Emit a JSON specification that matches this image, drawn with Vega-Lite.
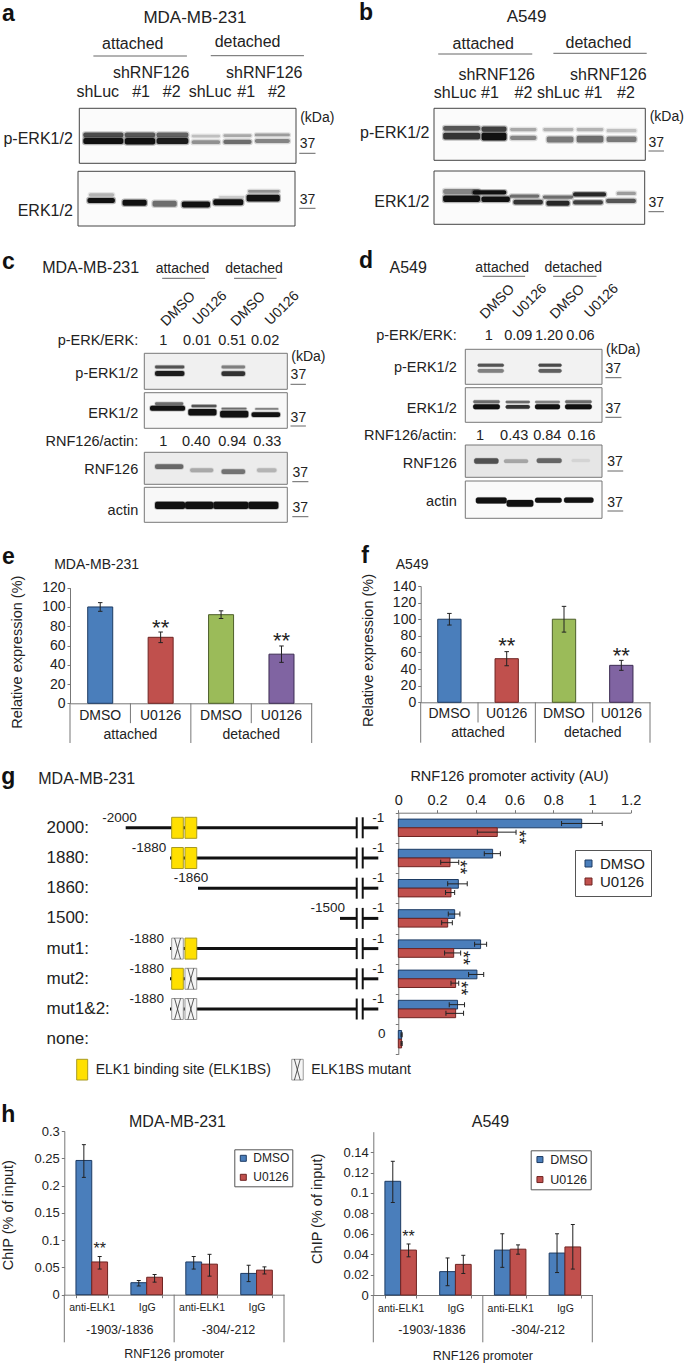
{"$schema":"https://vega.github.io/schema/vega-lite/v6.json","width":685,"height":1365,"autosize":"none","padding":0,"background":"white",
"config":{"view":{"stroke":null},"axis":{"labelFont":"Liberation Sans","titleFont":"Liberation Sans","labelColor":"#222","titleColor":"#222","titleFontWeight":"normal","domainColor":"#777","tickColor":"#777","grid":false,"labelOverlap":false,"labelFlush":false,"labelBound":false},"text":{"font":"Liberation Sans","fill":"#222"},"legend":{"labelFont":"Liberation Sans","labelColor":"#222"},"tick":{"opacity":1}},
"resolve":{"scale":{"x":"independent","y":"independent","xOffset":"independent","yOffset":"independent","fill":"independent","stroke":"independent"},"axis":{"x":"independent","y":"independent"},"legend":{"fill":"independent"}},
"datasets":{
"bands":[
{"strip":"a1","from":0.11,"to":1.22,"top":44,"bottom":53,"density":0.75},{"strip":"a1","from":1.26,"to":2.1,"top":44,"bottom":53,"density":0.7},{"strip":"a1","from":2.14,"to":3.02,"top":44,"bottom":53,"density":0.65},{"strip":"a1","from":3.11,"to":3.9,"top":48,"bottom":53,"density":0.25},{"strip":"a1","from":3.99,"to":4.77,"top":47,"bottom":52,"density":0.35},{"strip":"a1","from":4.86,"to":5.83,"top":46,"bottom":51,"density":0.4},
{"strip":"a1","from":0.11,"to":1.22,"top":54,"bottom":65,"density":1},{"strip":"a1","from":1.26,"to":2.1,"top":54,"bottom":66,"density":1},{"strip":"a1","from":2.14,"to":3.02,"top":54,"bottom":65,"density":0.95},{"strip":"a1","from":3.11,"to":3.9,"top":58,"bottom":65,"density":0.45},{"strip":"a1","from":3.99,"to":4.77,"top":57,"bottom":65,"density":0.6},{"strip":"a1","from":4.86,"to":5.83,"top":56,"bottom":63,"density":0.5},
{"strip":"a2","from":0.26,"to":1.02,"top":49,"bottom":58,"density":1},{"strip":"a2","from":1.23,"to":1.9,"top":52,"bottom":63,"density":1},{"strip":"a2","from":2.06,"to":2.73,"top":54,"bottom":65,"density":0.6},{"strip":"a2","from":2.87,"to":3.65,"top":55,"bottom":66,"density":1},{"strip":"a2","from":3.74,"to":4.57,"top":51,"bottom":62,"density":1},{"strip":"a2","from":4.66,"to":5.58,"top":43,"bottom":55,"density":1},{"strip":"a2","from":0.3,"to":1,"top":40,"bottom":46,"density":0.3},{"strip":"a2","from":4.7,"to":5.58,"top":34,"bottom":39,"density":0.45},{"strip":"a2","from":3.9,"to":4.6,"top":45,"bottom":49,"density":0.2},
{"strip":"b1","from":0.26,"to":1.31,"top":34,"bottom":43,"density":0.7},{"strip":"b1","from":1.35,"to":2.06,"top":35,"bottom":45,"density":0.8},{"strip":"b1","from":2.16,"to":2.91,"top":38,"bottom":44,"density":0.35},{"strip":"b1","from":3.1,"to":3.96,"top":38,"bottom":44,"density":0.3},{"strip":"b1","from":4.05,"to":4.81,"top":38,"bottom":44,"density":0.3},{"strip":"b1","from":4.9,"to":5.75,"top":40,"bottom":46,"density":0.25},
{"strip":"b1","from":0.26,"to":1.31,"top":47,"bottom":60,"density":0.85},{"strip":"b1","from":1.35,"to":2.06,"top":47,"bottom":62,"density":1},{"strip":"b1","from":2.16,"to":2.91,"top":53,"bottom":61,"density":0.5},{"strip":"b1","from":3.2,"to":3.96,"top":54,"bottom":66,"density":0.55},{"strip":"b1","from":4.05,"to":4.81,"top":53,"bottom":66,"density":0.6},{"strip":"b1","from":4.9,"to":5.75,"top":54,"bottom":65,"density":0.55},
{"strip":"b2","from":0.26,"to":1.31,"top":34,"bottom":43,"density":0.5},{"strip":"b2","from":1.1,"to":2.06,"top":36,"bottom":44,"density":1},{"strip":"b2","from":2.16,"to":3,"top":44,"bottom":50,"density":0.6},{"strip":"b2","from":3.1,"to":3.96,"top":46,"bottom":52,"density":0.6},{"strip":"b2","from":3.96,"to":4.9,"top":40,"bottom":48,"density":0.9},{"strip":"b2","from":5.2,"to":5.75,"top":39,"bottom":45,"density":0.4},
{"strip":"b2","from":0.26,"to":1.31,"top":46,"bottom":58,"density":1},{"strip":"b2","from":1.35,"to":2.16,"top":48,"bottom":58,"density":1},{"strip":"b2","from":2.26,"to":3.1,"top":54,"bottom":63,"density":0.85},{"strip":"b2","from":3.2,"to":3.86,"top":56,"bottom":65,"density":0.9},{"strip":"b2","from":3.96,"to":4.81,"top":55,"bottom":63,"density":0.8},{"strip":"b2","from":4.9,"to":5.75,"top":52,"bottom":60,"density":0.7},
{"strip":"c1","from":0.3,"to":1.12,"top":34,"bottom":42,"density":0.7},{"strip":"c1","from":2.16,"to":2.82,"top":34,"bottom":42,"density":0.5},{"strip":"c1","from":0.3,"to":1.12,"top":49,"bottom":63,"density":0.95},{"strip":"c1","from":2.16,"to":2.82,"top":50,"bottom":63,"density":0.85},
{"strip":"c2","from":0.3,"to":1.09,"top":27,"bottom":35,"density":0.6},{"strip":"c2","from":1.32,"to":2.02,"top":34,"bottom":41,"density":0.7},{"strip":"c2","from":2.16,"to":2.86,"top":42,"bottom":47,"density":0.6},{"strip":"c2","from":3.1,"to":3.75,"top":43,"bottom":48,"density":0.5},
{"strip":"c2","from":0.16,"to":1.14,"top":37,"bottom":51,"density":1},{"strip":"c2","from":1.23,"to":2.02,"top":46,"bottom":64,"density":1},{"strip":"c2","from":2.12,"to":2.91,"top":51,"bottom":70,"density":1},{"strip":"c2","from":3,"to":3.8,"top":55,"bottom":68,"density":1},
{"strip":"c3","from":0.3,"to":1.09,"top":37,"bottom":52,"density":0.6},{"strip":"c3","from":1.28,"to":1.93,"top":50,"bottom":62,"density":0.3},{"strip":"c3","from":2.16,"to":2.82,"top":53,"bottom":68,"density":0.55},{"strip":"c3","from":3.15,"to":3.7,"top":50,"bottom":62,"density":0.25},
{"strip":"c4","from":0.3,"to":1.14,"top":41,"bottom":62,"density":1},{"strip":"c4","from":1.14,"to":1.93,"top":41,"bottom":62,"density":1},{"strip":"c4","from":1.93,"to":2.91,"top":41,"bottom":62,"density":1},{"strip":"c4","from":2.91,"to":3.75,"top":41,"bottom":62,"density":1},
{"strip":"d1","from":0.36,"to":1.13,"top":41,"bottom":50,"density":0.7},{"strip":"d1","from":2.14,"to":2.82,"top":41,"bottom":50,"density":0.75},{"strip":"d1","from":0.36,"to":1.13,"top":56,"bottom":67,"density":0.5},{"strip":"d1","from":2.14,"to":2.82,"top":56,"bottom":67,"density":0.65},
{"strip":"d2","from":0.23,"to":1.01,"top":36,"bottom":45,"density":0.6},{"strip":"d2","from":1.18,"to":1.89,"top":38,"bottom":45,"density":0.6},{"strip":"d2","from":2.04,"to":2.77,"top":38,"bottom":45,"density":0.5},{"strip":"d2","from":2.92,"to":3.7,"top":36,"bottom":45,"density":0.6},
{"strip":"d2","from":0.23,"to":1.01,"top":48,"bottom":62,"density":1},{"strip":"d2","from":1.18,"to":1.89,"top":50,"bottom":61,"density":0.85},{"strip":"d2","from":2.04,"to":2.77,"top":48,"bottom":62,"density":1},{"strip":"d2","from":2.92,"to":3.7,"top":48,"bottom":62,"density":1},
{"strip":"d3","from":0.26,"to":0.97,"top":41,"bottom":58,"density":0.7},{"strip":"d3","from":1.13,"to":1.84,"top":44,"bottom":56,"density":0.3},{"strip":"d3","from":2.09,"to":2.82,"top":41,"bottom":56,"density":0.6},{"strip":"d3","from":3.11,"to":3.65,"top":43,"bottom":53,"density":0.08},
{"strip":"d4","from":0.31,"to":1.21,"top":44,"bottom":60,"density":1},{"strip":"d4","from":1.21,"to":1.99,"top":51,"bottom":69,"density":1},{"strip":"d4","from":2.04,"to":2.82,"top":45,"bottom":58,"density":1},{"strip":"d4","from":2.89,"to":3.75,"top":44,"bottom":58,"density":1}
],
"notes":[
{"panel":"a","role":"center","kind":"big","label":"MDA-MB-231","lane":3.2,"tier":1.83},{"panel":"a","role":"center","kind":"medium","label":"attached","lane":1.48,"tier":4.43},{"panel":"a","role":"center","kind":"medium","label":"detached","lane":4.66,"tier":4.17},{"panel":"a","role":"center","kind":"medium","label":"shRNF126","lane":1.99,"tier":7.33},{"panel":"a","role":"center","kind":"medium","label":"shRNF126","lane":5.12,"tier":7.33},{"panel":"a","role":"center","kind":"medium","label":"shLuc","lane":0.51,"tier":9.17},{"panel":"a","role":"center","kind":"medium","label":"#1","lane":1.71,"tier":9.17},{"panel":"a","role":"center","kind":"medium","label":"#2","lane":2.56,"tier":9.17},{"panel":"a","role":"center","kind":"medium","label":"shLuc","lane":3.62,"tier":9.17},{"panel":"a","role":"center","kind":"medium","label":"#1","lane":4.62,"tier":9.17},{"panel":"a","role":"center","kind":"medium","label":"#2","lane":5.47,"tier":9.17},{"panel":"a","role":"center","kind":"small","label":"(kDa)","lane":6.59,"tier":11.77},{"panel":"a","role":"center","kind":"small","label":"37","lane":6.32,"tier":14.43},{"panel":"a","role":"center","kind":"small","label":"37","lane":6.32,"tier":20},{"panel":"a","role":"right","kind":"medium","label":"p-ERK1/2","lane":-0.18,"tier":13.93},{"panel":"a","role":"right","kind":"medium","label":"ERK1/2","lane":-0.18,"tier":21.07},
{"panel":"b","role":"center","kind":"big","label":"A549","lane":2.63,"tier":1.73},{"panel":"b","role":"center","kind":"medium","label":"attached","lane":1.4,"tier":4.4},{"panel":"b","role":"center","kind":"medium","label":"detached","lane":4.67,"tier":4.33},{"panel":"b","role":"center","kind":"medium","label":"shRNF126","lane":1.78,"tier":7.5},{"panel":"b","role":"center","kind":"medium","label":"shRNF126","lane":4.95,"tier":7.5},{"panel":"b","role":"center","kind":"medium","label":"shLuc","lane":0.6,"tier":9.33},{"panel":"b","role":"center","kind":"medium","label":"#1","lane":1.59,"tier":9.33},{"panel":"b","role":"center","kind":"medium","label":"#2","lane":2.54,"tier":9.33},{"panel":"b","role":"center","kind":"medium","label":"shLuc","lane":3.53,"tier":9.33},{"panel":"b","role":"center","kind":"medium","label":"#1","lane":4.53,"tier":9.33},{"panel":"b","role":"center","kind":"medium","label":"#2","lane":5.45,"tier":9.33},{"panel":"b","role":"center","kind":"small","label":"(kDa)","lane":6.61,"tier":11.67},{"panel":"b","role":"center","kind":"small","label":"37","lane":6.31,"tier":14.33},{"panel":"b","role":"center","kind":"small","label":"37","lane":6.31,"tier":20.33},{"panel":"b","role":"right","kind":"medium","label":"p-ERK1/2","lane":-0.13,"tier":13.27},{"panel":"b","role":"right","kind":"medium","label":"ERK1/2","lane":-0.13,"tier":20.17},
{"panel":"c","role":"center","kind":"medium","label":"MDA-MB-231","lane":-1.5,"tier":2.33},{"panel":"c","role":"center","kind":"small","label":"attached","lane":1.07,"tier":2.43},{"panel":"c","role":"center","kind":"small","label":"detached","lane":3.07,"tier":2.43},{"panel":"c","role":"slant","kind":"small","label":"DMSO","lane":0.95,"tier":6.4},{"panel":"c","role":"slant","kind":"small","label":"U0126","lane":1.84,"tier":6.33},{"panel":"c","role":"slant","kind":"small","label":"DMSO","lane":2.91,"tier":6.4},{"panel":"c","role":"slant","kind":"small","label":"U0126","lane":3.86,"tier":6.33},{"panel":"c","role":"right","kind":"normal","label":"p-ERK/ERK:","lane":-0.17,"tier":9.6},{"panel":"c","role":"center","kind":"normal","label":"1","lane":0.53,"tier":9.6},{"panel":"c","role":"center","kind":"normal","label":"0.01","lane":1.48,"tier":9.6},{"panel":"c","role":"center","kind":"normal","label":"0.51","lane":2.46,"tier":9.6},{"panel":"c","role":"center","kind":"normal","label":"0.02","lane":3.38,"tier":9.6},{"panel":"c","role":"right","kind":"normal","label":"RNF126/actin:","lane":-0.17,"tier":19.67},{"panel":"c","role":"center","kind":"normal","label":"1","lane":0.53,"tier":19.67},{"panel":"c","role":"center","kind":"normal","label":"0.40","lane":1.45,"tier":19.67},{"panel":"c","role":"center","kind":"normal","label":"0.94","lane":2.46,"tier":19.67},{"panel":"c","role":"center","kind":"normal","label":"0.33","lane":3.44,"tier":19.67},{"panel":"c","role":"right","kind":"normal","label":"p-ERK1/2","lane":-0.17,"tier":12.93},{"panel":"c","role":"right","kind":"normal","label":"ERK1/2","lane":-0.17,"tier":16.93},{"panel":"c","role":"right","kind":"normal","label":"RNF126","lane":-0.17,"tier":22.5},{"panel":"c","role":"right","kind":"normal","label":"actin","lane":-0.17,"tier":26.57},{"panel":"c","role":"center","kind":"small","label":"(kDa)","lane":4.59,"tier":11.17},{"panel":"c","role":"center","kind":"small","label":"37","lane":4.31,"tier":13},{"panel":"c","role":"center","kind":"small","label":"37","lane":4.31,"tier":17.27},{"panel":"c","role":"center","kind":"small","label":"37","lane":4.36,"tier":22.77},{"panel":"c","role":"center","kind":"small","label":"37","lane":4.36,"tier":26.33},
{"panel":"d","role":"center","kind":"medium","label":"A549","lane":-1.67,"tier":2.33},{"panel":"d","role":"center","kind":"small","label":"attached","lane":1.08,"tier":2.27},{"panel":"d","role":"center","kind":"small","label":"detached","lane":3.16,"tier":2.27},{"panel":"d","role":"slant","kind":"small","label":"DMSO","lane":0.94,"tier":5.67},{"panel":"d","role":"slant","kind":"small","label":"U0126","lane":1.89,"tier":5.6},{"panel":"d","role":"slant","kind":"small","label":"DMSO","lane":2.99,"tier":5.67},{"panel":"d","role":"slant","kind":"small","label":"U0126","lane":3.99,"tier":5.6},{"panel":"d","role":"right","kind":"normal","label":"p-ERK/ERK:","lane":-0.25,"tier":9.07},{"panel":"d","role":"center","kind":"normal","label":"1","lane":0.69,"tier":9.07},{"panel":"d","role":"center","kind":"normal","label":"0.09","lane":1.55,"tier":9.07},{"panel":"d","role":"center","kind":"normal","label":"1.20","lane":2.45,"tier":9.07},{"panel":"d","role":"center","kind":"normal","label":"0.06","lane":3.37,"tier":9.07},{"panel":"d","role":"right","kind":"normal","label":"RNF126/actin:","lane":-0.25,"tier":19.07},{"panel":"d","role":"center","kind":"normal","label":"1","lane":0.43,"tier":19.07},{"panel":"d","role":"center","kind":"normal","label":"0.43","lane":1.43,"tier":19.07},{"panel":"d","role":"center","kind":"normal","label":"0.84","lane":2.4,"tier":19.07},{"panel":"d","role":"center","kind":"normal","label":"0.16","lane":3.4,"tier":19.07},{"panel":"d","role":"right","kind":"normal","label":"p-ERK1/2","lane":-0.25,"tier":12.33},{"panel":"d","role":"right","kind":"normal","label":"ERK1/2","lane":-0.25,"tier":16.4},{"panel":"d","role":"right","kind":"normal","label":"RNF126","lane":-0.25,"tier":21.93},{"panel":"d","role":"right","kind":"normal","label":"actin","lane":-0.25,"tier":25.67},{"panel":"d","role":"center","kind":"small","label":"(kDa)","lane":4.62,"tier":10.5},{"panel":"d","role":"center","kind":"small","label":"37","lane":4.33,"tier":12.43},{"panel":"d","role":"center","kind":"small","label":"37","lane":4.33,"tier":16.4},{"panel":"d","role":"center","kind":"small","label":"37","lane":4.38,"tier":21.73},{"panel":"d","role":"center","kind":"small","label":"37","lane":4.38,"tier":25.77}
],
"rules":[
{"panel":"a","lane":0.39,"end":2.98,"tier":5.6},{"panel":"a","lane":3.64,"end":6.22,"tier":5.57},{"panel":"a","lane":6.09,"end":6.54,"tier":15.33},{"panel":"a","lane":6.09,"end":6.54,"tier":20.83},
{"panel":"b","lane":0.12,"end":2.79,"tier":5.4},{"panel":"b","lane":3.39,"end":6.04,"tier":5.33},{"panel":"b","lane":6.09,"end":6.53,"tier":15.1},{"panel":"b","lane":6.09,"end":6.53,"tier":21.17},
{"panel":"c","lane":0.5,"end":1.7,"tier":3.33},{"panel":"c","lane":2.51,"end":3.7,"tier":3.33},{"panel":"c","lane":4.09,"end":4.52,"tier":13.93},{"panel":"c","lane":4.09,"end":4.52,"tier":18.1},{"panel":"c","lane":4.14,"end":4.59,"tier":23.67},{"panel":"c","lane":4.14,"end":4.59,"tier":27.17},
{"panel":"d","lane":0.51,"end":1.75,"tier":3.13},{"panel":"d","lane":2.57,"end":3.84,"tier":3.13},{"panel":"d","lane":4.1,"end":4.57,"tier":13.27},{"panel":"d","lane":4.1,"end":4.57,"tier":17.23},{"panel":"d","lane":4.16,"end":4.62,"tier":22.6},{"panel":"d","lane":4.16,"end":4.62,"tier":26.6}
],
"expression":[
{"panel":"e","arm":"attached|DMSO","value":100,"lo":95.5,"hi":104.5},{"panel":"e","arm":"attached|U0126","value":68.5,"lo":63,"hi":74},{"panel":"e","arm":"detached|DMSO","value":92,"lo":88,"hi":96},{"panel":"e","arm":"detached|U0126","value":51,"lo":42.5,"hi":59.5},
{"panel":"f","arm":"attached|DMSO","value":100,"lo":93,"hi":107},{"panel":"f","arm":"attached|U0126","value":52.5,"lo":44,"hi":61},{"panel":"f","arm":"detached|DMSO","value":100,"lo":84.5,"hi":115.5},{"panel":"f","arm":"detached|U0126","value":44.5,"lo":38.5,"hi":50.5}
],
"stars":[
{"panel":"e","arm":"attached|U0126","at":78.5},{"panel":"e","arm":"detached|U0126","at":64.7},{"panel":"f","arm":"attached|U0126","at":68},{"panel":"f","arm":"detached|U0126","at":55.8}
],
"dividers":[
{"panel":"e","at":0,"level":0,"depth":2},{"panel":"e","at":1,"level":0,"depth":1},{"panel":"e","at":2,"level":0,"depth":2},{"panel":"e","at":3,"level":0,"depth":1},{"panel":"e","at":4,"level":0,"depth":2},
{"panel":"f","at":0,"level":0,"depth":2},{"panel":"f","at":1,"level":0,"depth":1},{"panel":"f","at":2,"level":0,"depth":2},{"panel":"f","at":3,"level":0,"depth":1},{"panel":"f","at":4,"level":0,"depth":2},
{"panel":"hL","at":0,"level":0,"depth":2},{"panel":"hL","at":2,"level":0,"depth":2},{"panel":"hL","at":4,"level":0,"depth":2},
{"panel":"hR","at":0,"level":0,"depth":2},{"panel":"hR","at":2,"level":0,"depth":2},{"panel":"hR","at":4,"level":0,"depth":2}
],
"captions":[
{"panel":"e","kind":"small","label":"MDA-MB-231","at":0.44,"level":-6.97},{"panel":"e","kind":"small","label":"attached","at":1,"level":1.6},{"panel":"e","kind":"small","label":"detached","at":3,"level":1.6},
{"panel":"f","kind":"small","label":"A549","at":-0.15,"level":-6.8},{"panel":"f","kind":"small","label":"attached","at":1,"level":1.52},{"panel":"f","kind":"small","label":"detached","at":3,"level":1.52},
{"panel":"hL","kind":"medium","label":"MDA-MB-231","at":2.06,"level":-7.27},{"panel":"hL","kind":"minor","label":"-1903/-1836","at":1.01,"level":1.48},{"panel":"hL","kind":"minor","label":"-304/-212","at":2.99,"level":1.48},{"panel":"hL","kind":"minor","label":"RNF126 promoter","at":2,"level":2.49},
{"panel":"hR","kind":"medium","label":"A549","at":2.14,"level":-7.33},{"panel":"hR","kind":"minor","label":"-1903/-1836","at":1.07,"level":1.5},{"panel":"hR","kind":"minor","label":"-304/-212","at":3.01,"level":1.5},{"panel":"hR","kind":"minor","label":"RNF126 promoter","at":2,"level":2.56}
],
"promoter":[
{"row":"2000","treatment":"DMSO","value":0.947,"lo":0.843,"hi":1.053},{"row":"2000","treatment":"U0126","value":0.511,"lo":0.408,"hi":0.608},
{"row":"1880","treatment":"DMSO","value":0.487,"lo":0.444,"hi":0.527},{"row":"1880","treatment":"U0126","value":0.267,"lo":0.219,"hi":0.312},
{"row":"1860","treatment":"DMSO","value":0.31,"lo":0.255,"hi":0.356},{"row":"1860","treatment":"U0126","value":0.272,"lo":0.244,"hi":0.291},
{"row":"1500","treatment":"DMSO","value":0.291,"lo":0.258,"hi":0.318},{"row":"1500","treatment":"U0126","value":0.255,"lo":0.224,"hi":0.279},
{"row":"mut1","treatment":"DMSO","value":0.425,"lo":0.394,"hi":0.456},{"row":"mut1","treatment":"U0126","value":0.286,"lo":0.239,"hi":0.322},
{"row":"mut2","treatment":"DMSO","value":0.406,"lo":0.363,"hi":0.441},{"row":"mut2","treatment":"U0126","value":0.296,"lo":0.272,"hi":0.312},
{"row":"mut1&2","treatment":"DMSO","value":0.306,"lo":0.263,"hi":0.342},{"row":"mut1&2","treatment":"U0126","value":0.296,"lo":0.246,"hi":0.337},
{"row":"none","treatment":"DMSO","value":0.017,"lo":0.014,"hi":0.02},{"row":"none","treatment":"U0126","value":0.017,"lo":0.014,"hi":0.02}
],
"promoterStars":[{"row":"2000","treatment":"U0126","at":0.619},{"row":"1880","treatment":"U0126","at":0.315},{"row":"mut1","treatment":"U0126","at":0.327},{"row":"mut2","treatment":"U0126","at":0.318}],
"segments":[
{"row":"2000","part":"left","from":-2000,"to":-846},{"row":"2000","part":"right","from":-611,"to":-1},{"row":"1880","part":"left","from":-1880,"to":-846},{"row":"1880","part":"right","from":-611,"to":-1},{"row":"1860","part":"left","from":-1860,"to":-846},{"row":"1860","part":"right","from":-611,"to":-1},{"row":"1500","part":"left","from":-1500,"to":-846},{"row":"1500","part":"right","from":-611,"to":-1},{"row":"mut1","part":"left","from":-1880,"to":-846},{"row":"mut1","part":"right","from":-611,"to":-1},{"row":"mut2","part":"left","from":-1880,"to":-846},{"row":"mut2","part":"right","from":-611,"to":-1},{"row":"mut1&2","part":"left","from":-1880,"to":-846},{"row":"mut1&2","part":"right","from":-611,"to":-1}
],
"sites":[
{"row":"2000","state":"wild","from":-1878.8,"to":-1870.5,"mid":-1874.6},{"row":"2000","state":"wild","from":-1869.3,"to":-1860.9,"mid":-1865.1},{"row":"1880","state":"wild","from":-1878.8,"to":-1870.5,"mid":-1874.6},{"row":"1880","state":"wild","from":-1869.3,"to":-1860.9,"mid":-1865.1},{"row":"mut1","state":"mutant","from":-1878.8,"to":-1870.5,"mid":-1874.6},{"row":"mut1","state":"wild","from":-1869.3,"to":-1860.9,"mid":-1865.1},{"row":"mut2","state":"wild","from":-1878.8,"to":-1870.5,"mid":-1874.6},{"row":"mut2","state":"mutant","from":-1869.3,"to":-1860.9,"mid":-1865.1},{"row":"mut1&2","state":"mutant","from":-1878.8,"to":-1870.5,"mid":-1874.6},{"row":"mut1&2","state":"mutant","from":-1869.3,"to":-1860.9,"mid":-1865.1}
],
"endpoints":[
{"row":"2000","label":"-2000","pos":-2017},{"row":"1880","label":"-1880","pos":-1937},{"row":"1860","label":"-1860","pos":-1865},{"row":"1500","label":"-1500","pos":-1531},{"row":"mut1","label":"-1880","pos":-1943},{"row":"mut2","label":"-1880","pos":-1943},{"row":"mut1&2","label":"-1880","pos":-1943},
{"row":"2000","label":"-1","pos":-1},{"row":"1880","label":"-1","pos":-1},{"row":"1860","label":"-1","pos":-1},{"row":"1500","label":"-1","pos":-1},{"row":"mut1","label":"-1","pos":-1},{"row":"mut2","label":"-1","pos":-1},{"row":"mut1&2","label":"-1","pos":-1},{"row":"none","label":"0","pos":133}
],
"siteKey":[
{"band":"key","state":"wild","label":"ELK1 binding site (ELK1BS)","from":0,"to":0.0354,"mid":0.0177},{"band":"key","state":"mutant","label":"ELK1BS  mutant","from":0.693,"to":0.73,"mid":0.711}
],
"chip":[
{"panel":"hL","group":"-1903/-1836|anti-ELK1","treatment":"DMSO","value":0.246,"lo":0.215,"hi":0.275},{"panel":"hL","group":"-1903/-1836|anti-ELK1","treatment":"U0126","value":0.06,"lo":0.047,"hi":0.07},{"panel":"hL","group":"-1903/-1836|IgG","treatment":"DMSO","value":0.022,"lo":0.016,"hi":0.026},{"panel":"hL","group":"-1903/-1836|IgG","treatment":"U0126","value":0.032,"lo":0.023,"hi":0.037},{"panel":"hL","group":"-304/-212|anti-ELK1","treatment":"DMSO","value":0.06,"lo":0.047,"hi":0.07},{"panel":"hL","group":"-304/-212|anti-ELK1","treatment":"U0126","value":0.056,"lo":0.034,"hi":0.074},{"panel":"hL","group":"-304/-212|IgG","treatment":"DMSO","value":0.039,"lo":0.024,"hi":0.054},{"panel":"hL","group":"-304/-212|IgG","treatment":"U0126","value":0.045,"lo":0.038,"hi":0.051},
{"panel":"hR","group":"-1903/-1836|anti-ELK1","treatment":"DMSO","value":0.1114,"lo":0.0906,"hi":0.131},{"panel":"hR","group":"-1903/-1836|anti-ELK1","treatment":"U0126","value":0.044,"lo":0.0374,"hi":0.05},{"panel":"hR","group":"-1903/-1836|IgG","treatment":"DMSO","value":0.0229,"lo":0.0091,"hi":0.0363},{"panel":"hR","group":"-1903/-1836|IgG","treatment":"U0126","value":0.03,"lo":0.0211,"hi":0.0389},{"panel":"hR","group":"-304/-212|anti-ELK1","treatment":"DMSO","value":0.044,"lo":0.0271,"hi":0.06},{"panel":"hR","group":"-304/-212|anti-ELK1","treatment":"U0126","value":0.0449,"lo":0.04,"hi":0.0491},{"panel":"hR","group":"-304/-212|IgG","treatment":"DMSO","value":0.0411,"lo":0.022,"hi":0.06},{"panel":"hR","group":"-304/-212|IgG","treatment":"U0126","value":0.0471,"lo":0.0254,"hi":0.0691}
],
"chipStars":[{"panel":"hL","group":"-1903/-1836|anti-ELK1","treatment":"U0126","at":0.083},{"panel":"hR","group":"-1903/-1836|anti-ELK1","treatment":"U0126","at":0.0567}],
"letters":[{"label":"a","across":1.21,"down":1.0},{"label":"b","across":53.43,"down":0.95},{"label":"c","across":1.21,"down":19.17},{"label":"d","across":53.43,"down":19.1},{"label":"e","across":1.21,"down":40.83},{"label":"f","across":53.28,"down":40.73},{"label":"g","across":1.21,"down":56.92},{"label":"h","across":1.21,"down":81.68}]
},
"layer":[
{"data":{"name":"letters"},"mark":{"type":"text","fontSize":23,"fontWeight":"bold","fill":"#111"},"encoding":{"x":{"field":"across","type":"quantitative","scale":{"domain":[0,100],"range":[0,685]},"axis":null},"y":{"field":"down","type":"quantitative","scale":{"domain":[0,100],"range":[0,1365]},"axis":null},"text":{"field":"label"}}},
{"data":{"values":[{"label":"MDA-MB-231","across":12.66,"down":57.09}]},"mark":{"type":"text","fontSize":16},"encoding":{"x":{"field":"across","type":"quantitative","scale":{"domain":[0,100],"range":[0,685]},"axis":null},"y":{"field":"down","type":"quantitative","scale":{"domain":[0,100],"range":[0,1365]},"axis":null},"text":{"field":"label"}}},

{"data":{"values":[{"from":0,"to":6,"top":0,"bottom":100}]},"mark":{"type":"rect","fill":"#fbfbfb","stroke":"#444","strokeWidth":1},"encoding":{"x":{"field":"from","type":"quantitative","scale":{"domain":[0,6],"range":[79.3,296]},"axis":null},"x2":{"field":"to"},"y":{"field":"top","type":"quantitative","scale":{"domain":[0,100],"range":[108.3,163.3]},"axis":null},"y2":{"field":"bottom"}}},
{"data":{"name":"bands"},"transform":[{"filter":"datum.strip=='a1'"}],"mark":{"type":"rect","cornerRadius":2,"fill":"#111","stroke":"#111","strokeWidth":2.5,"strokeOpacity":0.3},"encoding":{"x":{"field":"from","type":"quantitative","scale":{"domain":[0,6],"range":[79.3,296]},"axis":null},"x2":{"field":"to"},"y":{"field":"top","type":"quantitative","scale":{"domain":[0,100],"range":[108.3,163.3]},"axis":null},"y2":{"field":"bottom"},"opacity":{"field":"density","type":"quantitative","scale":null}}},
{"data":{"values":[{"from":0,"to":6,"top":0,"bottom":100}]},"mark":{"type":"rect","fill":"#fbfbfb","stroke":"#444","strokeWidth":1},"encoding":{"x":{"field":"from","type":"quantitative","scale":{"domain":[0,6],"range":[78,295]},"axis":null},"x2":{"field":"to"},"y":{"field":"top","type":"quantitative","scale":{"domain":[0,100],"range":[171.3,226]},"axis":null},"y2":{"field":"bottom"}}},
{"data":{"name":"bands"},"transform":[{"filter":"datum.strip=='a2'"}],"mark":{"type":"rect","cornerRadius":2,"fill":"#111","stroke":"#111","strokeWidth":2.5,"strokeOpacity":0.3},"encoding":{"x":{"field":"from","type":"quantitative","scale":{"domain":[0,6],"range":[78,295]},"axis":null},"x2":{"field":"to"},"y":{"field":"top","type":"quantitative","scale":{"domain":[0,100],"range":[171.3,226]},"axis":null},"y2":{"field":"bottom"},"opacity":{"field":"density","type":"quantitative","scale":null}}},
{"data":{"values":[{"from":0,"to":6,"top":0,"bottom":100}]},"mark":{"type":"rect","fill":"#fbfbfb","stroke":"#444","strokeWidth":1},"encoding":{"x":{"field":"from","type":"quantitative","scale":{"domain":[0,6],"range":[434,645.3]},"axis":null},"x2":{"field":"to"},"y":{"field":"top","type":"quantitative","scale":{"domain":[0,100],"range":[108.3,160.3]},"axis":null},"y2":{"field":"bottom"}}},
{"data":{"name":"bands"},"transform":[{"filter":"datum.strip=='b1'"}],"mark":{"type":"rect","cornerRadius":2,"fill":"#111","stroke":"#111","strokeWidth":2.5,"strokeOpacity":0.3},"encoding":{"x":{"field":"from","type":"quantitative","scale":{"domain":[0,6],"range":[434,645.3]},"axis":null},"x2":{"field":"to"},"y":{"field":"top","type":"quantitative","scale":{"domain":[0,100],"range":[108.3,160.3]},"axis":null},"y2":{"field":"bottom"},"opacity":{"field":"density","type":"quantitative","scale":null}}},
{"data":{"values":[{"from":0,"to":6,"top":0,"bottom":100}]},"mark":{"type":"rect","fill":"#fbfbfb","stroke":"#444","strokeWidth":1},"encoding":{"x":{"field":"from","type":"quantitative","scale":{"domain":[0,6],"range":[434,644.7]},"axis":null},"x2":{"field":"to"},"y":{"field":"top","type":"quantitative","scale":{"domain":[0,100],"range":[171,224.3]},"axis":null},"y2":{"field":"bottom"}}},
{"data":{"name":"bands"},"transform":[{"filter":"datum.strip=='b2'"}],"mark":{"type":"rect","cornerRadius":2,"fill":"#111","stroke":"#111","strokeWidth":2.5,"strokeOpacity":0.3},"encoding":{"x":{"field":"from","type":"quantitative","scale":{"domain":[0,6],"range":[434,644.7]},"axis":null},"x2":{"field":"to"},"y":{"field":"top","type":"quantitative","scale":{"domain":[0,100],"range":[171,224.3]},"axis":null},"y2":{"field":"bottom"},"opacity":{"field":"density","type":"quantitative","scale":null}}},

{"data":{"values":[{"from":0,"to":4,"top":0,"bottom":100}]},"mark":{"type":"rect","fill":"#f0f0f0","stroke":"#777","strokeWidth":1},"encoding":{"x":{"field":"from","type":"quantitative","scale":{"domain":[0,4],"range":[144.3,287.3]},"axis":null},"x2":{"field":"to"},"y":{"field":"top","type":"quantitative","scale":{"domain":[0,100],"range":[353.3,389.3]},"axis":null},"y2":{"field":"bottom"}}},
{"data":{"name":"bands"},"transform":[{"filter":"datum.strip=='c1'"}],"mark":{"type":"rect","cornerRadius":2,"fill":"#111","stroke":"#111","strokeWidth":1.5,"strokeOpacity":0.3},"encoding":{"x":{"field":"from","type":"quantitative","scale":{"domain":[0,4],"range":[144.3,287.3]},"axis":null},"x2":{"field":"to"},"y":{"field":"top","type":"quantitative","scale":{"domain":[0,100],"range":[353.3,389.3]},"axis":null},"y2":{"field":"bottom"},"opacity":{"field":"density","type":"quantitative","scale":null}}},
{"data":{"values":[{"from":0,"to":4,"top":0,"bottom":100}]},"mark":{"type":"rect","fill":"#f8f8f8","stroke":"#777","strokeWidth":1},"encoding":{"x":{"field":"from","type":"quantitative","scale":{"domain":[0,4],"range":[144.3,287.3]},"axis":null},"x2":{"field":"to"},"y":{"field":"top","type":"quantitative","scale":{"domain":[0,100],"range":[392.7,428.3]},"axis":null},"y2":{"field":"bottom"}}},
{"data":{"name":"bands"},"transform":[{"filter":"datum.strip=='c2'"}],"mark":{"type":"rect","cornerRadius":2,"fill":"#111","stroke":"#111","strokeWidth":1.5,"strokeOpacity":0.3},"encoding":{"x":{"field":"from","type":"quantitative","scale":{"domain":[0,4],"range":[144.3,287.3]},"axis":null},"x2":{"field":"to"},"y":{"field":"top","type":"quantitative","scale":{"domain":[0,100],"range":[392.7,428.3]},"axis":null},"y2":{"field":"bottom"},"opacity":{"field":"density","type":"quantitative","scale":null}}},
{"data":{"values":[{"from":0,"to":4,"top":0,"bottom":100}]},"mark":{"type":"rect","fill":"#ececec","stroke":"#777","strokeWidth":1},"encoding":{"x":{"field":"from","type":"quantitative","scale":{"domain":[0,4],"range":[144.3,287.3]},"axis":null},"x2":{"field":"to"},"y":{"field":"top","type":"quantitative","scale":{"domain":[0,100],"range":[452.3,484.3]},"axis":null},"y2":{"field":"bottom"}}},
{"data":{"name":"bands"},"transform":[{"filter":"datum.strip=='c3'"}],"mark":{"type":"rect","cornerRadius":2,"fill":"#111","stroke":"#111","strokeWidth":1.5,"strokeOpacity":0.3},"encoding":{"x":{"field":"from","type":"quantitative","scale":{"domain":[0,4],"range":[144.3,287.3]},"axis":null},"x2":{"field":"to"},"y":{"field":"top","type":"quantitative","scale":{"domain":[0,100],"range":[452.3,484.3]},"axis":null},"y2":{"field":"bottom"},"opacity":{"field":"density","type":"quantitative","scale":null}}},
{"data":{"values":[{"from":0,"to":4,"top":0,"bottom":100}]},"mark":{"type":"rect","fill":"#f8f8f8","stroke":"#777","strokeWidth":1},"encoding":{"x":{"field":"from","type":"quantitative","scale":{"domain":[0,4],"range":[144.3,287.3]},"axis":null},"x2":{"field":"to"},"y":{"field":"top","type":"quantitative","scale":{"domain":[0,100],"range":[487.3,522.3]},"axis":null},"y2":{"field":"bottom"}}},
{"data":{"name":"bands"},"transform":[{"filter":"datum.strip=='c4'"}],"mark":{"type":"rect","cornerRadius":2,"fill":"#111","stroke":"#111","strokeWidth":1.5,"strokeOpacity":0.3},"encoding":{"x":{"field":"from","type":"quantitative","scale":{"domain":[0,4],"range":[144.3,287.3]},"axis":null},"x2":{"field":"to"},"y":{"field":"top","type":"quantitative","scale":{"domain":[0,100],"range":[487.3,522.3]},"axis":null},"y2":{"field":"bottom"},"opacity":{"field":"density","type":"quantitative","scale":null}}},

{"data":{"values":[{"from":0,"to":4,"top":0,"bottom":100}]},"mark":{"type":"rect","fill":"#f2f2f2","stroke":"#777","strokeWidth":1},"encoding":{"x":{"field":"from","type":"quantitative","scale":{"domain":[0,4],"range":[465.3,602]},"axis":null},"x2":{"field":"to"},"y":{"field":"top","type":"quantitative","scale":{"domain":[0,100],"range":[349.3,384.3]},"axis":null},"y2":{"field":"bottom"}}},
{"data":{"name":"bands"},"transform":[{"filter":"datum.strip=='d1'"}],"mark":{"type":"rect","cornerRadius":2,"fill":"#111","stroke":"#111","strokeWidth":1,"strokeOpacity":0.3},"encoding":{"x":{"field":"from","type":"quantitative","scale":{"domain":[0,4],"range":[465.3,602]},"axis":null},"x2":{"field":"to"},"y":{"field":"top","type":"quantitative","scale":{"domain":[0,100],"range":[349.3,384.3]},"axis":null},"y2":{"field":"bottom"},"opacity":{"field":"density","type":"quantitative","scale":null}}},
{"data":{"values":[{"from":0,"to":4,"top":0,"bottom":100}]},"mark":{"type":"rect","fill":"#f6f6f6","stroke":"#777","strokeWidth":1},"encoding":{"x":{"field":"from","type":"quantitative","scale":{"domain":[0,4],"range":[465.3,602]},"axis":null},"x2":{"field":"to"},"y":{"field":"top","type":"quantitative","scale":{"domain":[0,100],"range":[387.7,422.3]},"axis":null},"y2":{"field":"bottom"}}},
{"data":{"name":"bands"},"transform":[{"filter":"datum.strip=='d2'"}],"mark":{"type":"rect","cornerRadius":2,"fill":"#111","stroke":"#111","strokeWidth":1,"strokeOpacity":0.3},"encoding":{"x":{"field":"from","type":"quantitative","scale":{"domain":[0,4],"range":[465.3,602]},"axis":null},"x2":{"field":"to"},"y":{"field":"top","type":"quantitative","scale":{"domain":[0,100],"range":[387.7,422.3]},"axis":null},"y2":{"field":"bottom"},"opacity":{"field":"density","type":"quantitative","scale":null}}},
{"data":{"values":[{"from":0,"to":4,"top":0,"bottom":100}]},"mark":{"type":"rect","fill":"#e6e6e6","stroke":"#777","strokeWidth":1},"encoding":{"x":{"field":"from","type":"quantitative","scale":{"domain":[0,4],"range":[465.3,602]},"axis":null},"x2":{"field":"to"},"y":{"field":"top","type":"quantitative","scale":{"domain":[0,100],"range":[445,477.3]},"axis":null},"y2":{"field":"bottom"}}},
{"data":{"name":"bands"},"transform":[{"filter":"datum.strip=='d3'"}],"mark":{"type":"rect","cornerRadius":2,"fill":"#111","stroke":"#111","strokeWidth":1,"strokeOpacity":0.3},"encoding":{"x":{"field":"from","type":"quantitative","scale":{"domain":[0,4],"range":[465.3,602]},"axis":null},"x2":{"field":"to"},"y":{"field":"top","type":"quantitative","scale":{"domain":[0,100],"range":[445,477.3]},"axis":null},"y2":{"field":"bottom"},"opacity":{"field":"density","type":"quantitative","scale":null}}},
{"data":{"values":[{"from":0,"to":4,"top":0,"bottom":100}]},"mark":{"type":"rect","fill":"#fafafa","stroke":"#777","strokeWidth":1},"encoding":{"x":{"field":"from","type":"quantitative","scale":{"domain":[0,4],"range":[465.3,602]},"axis":null},"x2":{"field":"to"},"y":{"field":"top","type":"quantitative","scale":{"domain":[0,100],"range":[481,518.3]},"axis":null},"y2":{"field":"bottom"}}},
{"data":{"name":"bands"},"transform":[{"filter":"datum.strip=='d4'"}],"mark":{"type":"rect","cornerRadius":2,"fill":"#111","stroke":"#111","strokeWidth":1,"strokeOpacity":0.3},"encoding":{"x":{"field":"from","type":"quantitative","scale":{"domain":[0,4],"range":[465.3,602]},"axis":null},"x2":{"field":"to"},"y":{"field":"top","type":"quantitative","scale":{"domain":[0,100],"range":[481,518.3]},"axis":null},"y2":{"field":"bottom"},"opacity":{"field":"density","type":"quantitative","scale":null}}},

{"encoding":{"x":{"field":"lane","type":"quantitative","scale":{"domain":[0,6],"range":[79.3,296]},"axis":null},"y":{"field":"tier","type":"quantitative","scale":{"domain":[0,24],"range":[0,240]},"axis":null}},"layer":[
{"data":{"name":"notes"},"transform":[{"filter":"datum.panel=='a'&&datum.role=='center'"}],"mark":{"type":"text"},"encoding":{"text":{"field":"label"},"size":{"field":"kind","type":"nominal","scale":{"type":"ordinal","domain":["big","medium","normal","small","minor"],"range":[17,16,14.5,14,12.5]},"legend":null}}},
{"data":{"name":"notes"},"transform":[{"filter":"datum.panel=='a'&&datum.role=='right'"}],"mark":{"type":"text","align":"right"},"encoding":{"text":{"field":"label"},"size":{"field":"kind","type":"nominal","scale":{"type":"ordinal","domain":["big","medium","normal","small","minor"],"range":[17,16,14.5,14,12.5]},"legend":null}}},
{"data":{"name":"rules"},"transform":[{"filter":"datum.panel=='a'"}],"mark":{"type":"rule","stroke":"#666","strokeWidth":1},"encoding":{"x2":{"field":"end"}}}
]},
{"encoding":{"x":{"field":"lane","type":"quantitative","scale":{"domain":[0,6],"range":[434,645.3]},"axis":null},"y":{"field":"tier","type":"quantitative","scale":{"domain":[0,24],"range":[0,240]},"axis":null}},"layer":[
{"data":{"name":"notes"},"transform":[{"filter":"datum.panel=='b'&&datum.role=='center'"}],"mark":{"type":"text"},"encoding":{"text":{"field":"label"},"size":{"field":"kind","type":"nominal","scale":{"type":"ordinal","domain":["big","medium","normal","small","minor"],"range":[17,16,14.5,14,12.5]},"legend":null}}},
{"data":{"name":"notes"},"transform":[{"filter":"datum.panel=='b'&&datum.role=='right'"}],"mark":{"type":"text","align":"right"},"encoding":{"text":{"field":"label"},"size":{"field":"kind","type":"nominal","scale":{"type":"ordinal","domain":["big","medium","normal","small","minor"],"range":[17,16,14.5,14,12.5]},"legend":null}}},
{"data":{"name":"rules"},"transform":[{"filter":"datum.panel=='b'"}],"mark":{"type":"rule","stroke":"#666","strokeWidth":1},"encoding":{"x2":{"field":"end"}}}
]},
{"encoding":{"x":{"field":"lane","type":"quantitative","scale":{"domain":[0,4],"range":[144.3,287.3]},"axis":null},"y":{"field":"tier","type":"quantitative","scale":{"domain":[0,28.5],"range":[245,530]},"axis":null}},"layer":[
{"data":{"name":"notes"},"transform":[{"filter":"datum.panel=='c'&&datum.role=='center'"}],"mark":{"type":"text"},"encoding":{"text":{"field":"label"},"size":{"field":"kind","type":"nominal","scale":{"type":"ordinal","domain":["big","medium","normal","small","minor"],"range":[17,16,14.5,14,12.5]},"legend":null}}},
{"data":{"name":"notes"},"transform":[{"filter":"datum.panel=='c'&&datum.role=='right'"}],"mark":{"type":"text","align":"right"},"encoding":{"text":{"field":"label"},"size":{"field":"kind","type":"nominal","scale":{"type":"ordinal","domain":["big","medium","normal","small","minor"],"range":[17,16,14.5,14,12.5]},"legend":null}}},
{"data":{"name":"notes"},"transform":[{"filter":"datum.panel=='c'&&datum.role=='slant'"}],"mark":{"type":"text","angle":315},"encoding":{"text":{"field":"label"},"size":{"field":"kind","type":"nominal","scale":{"type":"ordinal","domain":["big","medium","normal","small","minor"],"range":[17,16,14.5,14,12.5]},"legend":null}}},
{"data":{"name":"rules"},"transform":[{"filter":"datum.panel=='c'"}],"mark":{"type":"rule","stroke":"#666","strokeWidth":1},"encoding":{"x2":{"field":"end"}}}
]},
{"encoding":{"x":{"field":"lane","type":"quantitative","scale":{"domain":[0,4],"range":[465.3,602]},"axis":null},"y":{"field":"tier","type":"quantitative","scale":{"domain":[0,28.5],"range":[245,530]},"axis":null}},"layer":[
{"data":{"name":"notes"},"transform":[{"filter":"datum.panel=='d'&&datum.role=='center'"}],"mark":{"type":"text"},"encoding":{"text":{"field":"label"},"size":{"field":"kind","type":"nominal","scale":{"type":"ordinal","domain":["big","medium","normal","small","minor"],"range":[17,16,14.5,14,12.5]},"legend":null}}},
{"data":{"name":"notes"},"transform":[{"filter":"datum.panel=='d'&&datum.role=='right'"}],"mark":{"type":"text","align":"right"},"encoding":{"text":{"field":"label"},"size":{"field":"kind","type":"nominal","scale":{"type":"ordinal","domain":["big","medium","normal","small","minor"],"range":[17,16,14.5,14,12.5]},"legend":null}}},
{"data":{"name":"notes"},"transform":[{"filter":"datum.panel=='d'&&datum.role=='slant'"}],"mark":{"type":"text","angle":315},"encoding":{"text":{"field":"label"},"size":{"field":"kind","type":"nominal","scale":{"type":"ordinal","domain":["big","medium","normal","small","minor"],"range":[17,16,14.5,14,12.5]},"legend":null}}},
{"data":{"name":"rules"},"transform":[{"filter":"datum.panel=='d'"}],"mark":{"type":"rule","stroke":"#666","strokeWidth":1},"encoding":{"x2":{"field":"end"}}}
]},

{"data":{"name":"expression"},"transform":[{"filter":"datum.panel=='e'"}],
"encoding":{"x":{"field":"arm","type":"nominal","scale":{"domain":["attached|DMSO","attached|U0126","detached|DMSO","detached|U0126"],"range":[70,311.7],"paddingInner":0.586,"paddingOuter":0.293},"axis":{"orient":"bottom","offset":-661.7,"title":null,"ticks":false,"labelAngle":0,"labelFontSize":14,"labelPadding":5,"labelExpr":"split(datum.label,'|')[1]"}}},
"layer":[
{"mark":{"type":"bar","strokeWidth":1},"encoding":{"y":{"field":"value","type":"quantitative","scale":{"domain":[0,120],"range":[703.3,587.7]},"axis":{"orient":"left","offset":-70,"values":[0,20,40,60,80,100,120],"tickSize":3,"labelPadding":2,"labelFontSize":14,"title":"Relative expression (%)","titleFontSize":14.5,"titleX":-46,"titleY":651.7}},"fill":{"field":"arm","type":"nominal","scale":{"domain":["attached|DMSO","attached|U0126","detached|DMSO","detached|U0126"],"range":["#4a7ebb","#c0504d","#9bbb59","#8064a2"]},"legend":null},"stroke":{"field":"arm","type":"nominal","scale":{"domain":["attached|DMSO","attached|U0126","detached|DMSO","detached|U0126"],"range":["#1d3b63","#6f2422","#4d5f2a","#3c2c52"]},"legend":null}}},
{"mark":{"type":"rule","stroke":"#222"},"encoding":{"y":{"field":"lo","type":"quantitative"},"y2":{"field":"hi"}}},
{"mark":{"type":"tick","color":"#222","size":4.5,"thickness":1},"encoding":{"y":{"field":"lo","type":"quantitative"}}},
{"mark":{"type":"tick","color":"#222","size":4.5,"thickness":1},"encoding":{"y":{"field":"hi","type":"quantitative"}}},
{"data":{"name":"stars"},"transform":[{"filter":"datum.panel=='e'"}],"mark":{"type":"text","fontSize":22,"text":"**"},"encoding":{"y":{"field":"at","type":"quantitative"}}}
]},
{"encoding":{"x":{"field":"at","type":"quantitative","scale":{"domain":[0,4],"range":[70,311.7]},"axis":null},"y":{"field":"level","type":"quantitative","scale":{"domain":[0,2],"range":[703.3,743]},"axis":null}},"layer":[
{"data":{"name":"dividers"},"transform":[{"filter":"datum.panel=='e'"}],"mark":{"type":"rule","stroke":"#777"},"encoding":{"y2":{"field":"depth"}}},
{"data":{"name":"captions"},"transform":[{"filter":"datum.panel=='e'"}],"mark":{"type":"text"},"encoding":{"text":{"field":"label"},"size":{"field":"kind","type":"nominal","scale":{"type":"ordinal","domain":["big","medium","normal","small","minor"],"range":[17,16,14.5,14,12.5]},"legend":null}}}
]},

{"data":{"name":"expression"},"transform":[{"filter":"datum.panel=='f'"}],
"encoding":{"x":{"field":"arm","type":"nominal","scale":{"domain":["attached|DMSO","attached|U0126","detached|DMSO","detached|U0126"],"range":[420.7,650],"paddingInner":0.593,"paddingOuter":0.297},"axis":{"orient":"bottom","offset":-662.7,"title":null,"ticks":false,"labelAngle":0,"labelFontSize":14,"labelPadding":4,"labelExpr":"split(datum.label,'|')[1]"}}},
"layer":[
{"mark":{"type":"bar","strokeWidth":1},"encoding":{"y":{"field":"value","type":"quantitative","scale":{"domain":[0,140],"range":[702.3,586]},"axis":{"orient":"left","offset":-420.7,"values":[0,20,40,60,80,100,120,140],"tickSize":3,"labelPadding":2,"labelFontSize":14,"title":"Relative expression (%)","titleFontSize":14.5,"titleX":-45.7,"titleY":650}},"fill":{"field":"arm","type":"nominal","scale":{"domain":["attached|DMSO","attached|U0126","detached|DMSO","detached|U0126"],"range":["#4a7ebb","#c0504d","#9bbb59","#8064a2"]},"legend":null},"stroke":{"field":"arm","type":"nominal","scale":{"domain":["attached|DMSO","attached|U0126","detached|DMSO","detached|U0126"],"range":["#1d3b63","#6f2422","#4d5f2a","#3c2c52"]},"legend":null}}},
{"mark":{"type":"rule","stroke":"#222"},"encoding":{"y":{"field":"lo","type":"quantitative"},"y2":{"field":"hi"}}},
{"mark":{"type":"tick","color":"#222","size":4.5,"thickness":1},"encoding":{"y":{"field":"lo","type":"quantitative"}}},
{"mark":{"type":"tick","color":"#222","size":4.5,"thickness":1},"encoding":{"y":{"field":"hi","type":"quantitative"}}},
{"data":{"name":"stars"},"transform":[{"filter":"datum.panel=='f'"}],"mark":{"type":"text","fontSize":22,"text":"**"},"encoding":{"y":{"field":"at","type":"quantitative"}}}
]},
{"encoding":{"x":{"field":"at","type":"quantitative","scale":{"domain":[0,4],"range":[420.7,650]},"axis":null},"y":{"field":"level","type":"quantitative","scale":{"domain":[0,2],"range":[702.3,742.7]},"axis":null}},"layer":[
{"data":{"name":"dividers"},"transform":[{"filter":"datum.panel=='f'"}],"mark":{"type":"rule","stroke":"#777"},"encoding":{"y2":{"field":"depth"}}},
{"data":{"name":"captions"},"transform":[{"filter":"datum.panel=='f'"}],"mark":{"type":"text"},"encoding":{"text":{"field":"label"},"size":{"field":"kind","type":"nominal","scale":{"type":"ordinal","domain":["big","medium","normal","small","minor"],"range":[17,16,14.5,14,12.5]},"legend":null}}}
]},

{"encoding":{"x":{"field":"from","type":"quantitative","scale":{"domain":[-2000,-1880,-1860,-1500,-1],"range":[125.7,170,198,340,378.3]},"axis":null},"y":{"field":"row","type":"nominal","scale":{"domain":["2000","1880","1860","1500","mut1","mut2","mut1&2","none"],"range":[812.7,1054.3],"paddingInner":0,"paddingOuter":0}}},"layer":[
{"data":{"name":"segments"},"mark":{"type":"rule","stroke":"#111","strokeWidth":3},"encoding":{"x2":{"field":"to"},"y":{"field":"row","type":"nominal","axis":{"orient":"left","offset":-46,"title":null,"ticks":false,"domain":false,"labelAlign":"left","labelPadding":0,"labelFontSize":17,"labelExpr":"datum.label+':'"}}}},
{"data":{"name":"segments"},"transform":[{"filter":"datum.part=='left'"}],"mark":{"type":"tick","color":"#111","size":21,"thickness":2},"encoding":{"x":{"field":"to","type":"quantitative","axis":null}}},
{"data":{"name":"segments"},"transform":[{"filter":"datum.part=='right'"}],"mark":{"type":"tick","color":"#111","size":21,"thickness":2}},
{"data":{"name":"sites"},"mark":{"type":"bar","size":21,"strokeWidth":1},"encoding":{"x2":{"field":"to"},"fill":{"field":"state","type":"nominal","scale":{"domain":["wild","mutant"],"range":["#ffe000","#f5f5f5"]},"legend":null},"stroke":{"field":"state","type":"nominal","scale":{"domain":["wild","mutant"],"range":["#a89a20","#999999"]},"legend":null}}},
{"data":{"name":"sites"},"transform":[{"filter":"datum.state=='mutant'"}],"mark":{"type":"point","shape":"M-0.28,-1L0.28,1M0.28,-1L-0.28,1","filled":false,"stroke":"#333","strokeWidth":0.8,"opacity":1,"size":441},"encoding":{"x":{"field":"mid","type":"quantitative","axis":null}}},
{"data":{"name":"endpoints"},"transform":[{"filter":"datum.label!='0'"}],"mark":{"type":"text","fontSize":13.5,"dy":-10},"encoding":{"x":{"field":"pos","type":"quantitative","axis":null},"text":{"field":"label"}}},
{"data":{"name":"endpoints"},"transform":[{"filter":"datum.label=='0'"}],"mark":{"type":"text","fontSize":13.5,"dy":-5},"encoding":{"x":{"field":"pos","type":"quantitative","axis":null},"text":{"field":"label"}}}
]},
{"data":{"name":"siteKey"},"encoding":{"x":{"field":"from","type":"quantitative","scale":{"domain":[0,1],"range":[76.7,387]},"axis":null},"y":{"field":"band","type":"nominal","scale":{"domain":["key"],"range":[1059.3,1080],"paddingInner":0,"paddingOuter":0},"axis":null}},"layer":[
{"mark":{"type":"bar","strokeWidth":1},"encoding":{"x2":{"field":"to"},"fill":{"field":"state","type":"nominal","scale":{"domain":["wild","mutant"],"range":["#ffe000","#f5f5f5"]},"legend":null},"stroke":{"field":"state","type":"nominal","scale":{"domain":["wild","mutant"],"range":["#a89a20","#999999"]},"legend":null}}},
{"transform":[{"filter":"datum.state=='mutant'"}],"mark":{"type":"point","shape":"M-0.28,-1L0.28,1M0.28,-1L-0.28,1","filled":false,"stroke":"#333","strokeWidth":0.8,"opacity":1,"size":441},"encoding":{"x":{"field":"mid","type":"quantitative","axis":null}}},
{"mark":{"type":"text","fontSize":14,"align":"left","dx":8},"encoding":{"x":{"field":"to","type":"quantitative","axis":null},"text":{"field":"label"}}}
]},

{"encoding":{"y":{"field":"row","type":"nominal","scale":{"domain":["2000","1880","1860","1500","mut1","mut2","mut1&2","none"],"range":[812.7,1054.3],"paddingInner":0,"paddingOuter":0}},"yOffset":{"field":"treatment","type":"nominal","scale":{"domain":["DMSO","U0126"],"paddingInner":0,"paddingOuter":0.736}}},"layer":[
{"data":{"name":"promoter"},"mark":{"type":"bar","strokeWidth":1},"encoding":{"x":{"field":"value","type":"quantitative","scale":{"domain":[0,1.2],"range":[398.3,630.7]},"axis":{"orient":"top","offset":-812.7,"values":[0,0.2,0.4,0.6,0.8,1,1.2],"format":".2~f","tickSize":3,"labelPadding":2,"labelFontSize":14.5,"title":"RNF126 promoter activity (AU)","titleFontSize":14.5,"titlePadding":9,"titleX":509}},"y":{"field":"row","type":"nominal","axis":{"orient":"left","offset":-398.3,"labels":false,"title":null,"tickBand":"extent","tickSize":3}},"fill":{"field":"treatment","type":"nominal","scale":{"domain":["DMSO","U0126"],"range":["#4a7ebb","#c0504d"]},"legend":{"title":null,"orient":"none","legendX":575,"legendY":850,"padding":6,"strokeColor":"#555","fillColor":"#fff","symbolType":"square","symbolSize":49,"symbolStrokeColor":"#333","symbolStrokeWidth":1,"labelFontSize":15,"rowPadding":2,"labelOffset":4}},"stroke":{"field":"treatment","type":"nominal","scale":{"domain":["DMSO","U0126"],"range":["#1d3b63","#6f2422"]},"legend":null}}},
{"data":{"name":"promoter"},"mark":{"type":"rule","stroke":"#222"},"encoding":{"x":{"field":"lo","type":"quantitative"},"x2":{"field":"hi"}}},
{"data":{"name":"promoter"},"mark":{"type":"tick","color":"#222","size":5,"thickness":1},"encoding":{"x":{"field":"lo","type":"quantitative"}}},
{"data":{"name":"promoter"},"mark":{"type":"tick","color":"#222","size":5,"thickness":1},"encoding":{"x":{"field":"hi","type":"quantitative"}}},
{"data":{"name":"promoterStars"},"mark":{"type":"text","fontSize":18,"angle":90,"text":"**","dx":5},"encoding":{"x":{"field":"at","type":"quantitative"}}}
]},

{"data":{"name":"chip"},"transform":[{"filter":"datum.panel=='hL'"}],
"encoding":{"x":{"field":"group","type":"nominal","scale":{"domain":["-1903/-1836|anti-ELK1","-1903/-1836|IgG","-304/-212|anti-ELK1","-304/-212|IgG"],"range":[64.3,284],"paddingInner":0.4244,"paddingOuter":0.2122},"axis":{"orient":"bottom","offset":-70.3,"title":null,"tickBand":"extent","tickSize":3,"labelAngle":0,"labelFontSize":10.5,"labelPadding":5,"labelExpr":"split(datum.label,'|')[1]"}},"xOffset":{"field":"treatment","type":"nominal","scale":{"domain":["DMSO","U0126"]}}},
"layer":[
{"mark":{"type":"bar","strokeWidth":1},"encoding":{"y":{"field":"value","type":"quantitative","scale":{"domain":[0,0.3],"range":[1294.7,1131]},"axis":{"orient":"left","offset":-64.3,"values":[0,0.05,0.1,0.15,0.2,0.25,0.3],"format":".2~f","tickSize":3,"labelPadding":2,"labelFontSize":13,"title":"ChIP (% of input)","titleFontSize":14.5,"titleX":-48.8,"titleY":1214.7}},"fill":{"field":"treatment","type":"nominal","scale":{"domain":["DMSO","U0126"],"range":["#4a7ebb","#c0504d"]},"legend":{"title":null,"orient":"none","legendX":234.3,"legendY":1149.3,"padding":3,"strokeColor":"#555","fillColor":"#fff","symbolType":"square","symbolSize":36,"symbolStrokeColor":"#333","symbolStrokeWidth":1,"labelFontSize":12,"rowPadding":7,"labelOffset":4}},"stroke":{"field":"treatment","type":"nominal","scale":{"domain":["DMSO","U0126"],"range":["#1d3b63","#6f2422"]},"legend":null}}},
{"mark":{"type":"rule","stroke":"#222"},"encoding":{"y":{"field":"lo","type":"quantitative"},"y2":{"field":"hi"}}},
{"mark":{"type":"tick","color":"#222","size":4,"thickness":1},"encoding":{"y":{"field":"lo","type":"quantitative"}}},
{"mark":{"type":"tick","color":"#222","size":4,"thickness":1},"encoding":{"y":{"field":"hi","type":"quantitative"}}},
{"data":{"name":"chipStars"},"transform":[{"filter":"datum.panel=='hL'"}],"mark":{"type":"text","fontSize":16,"text":"**"},"encoding":{"y":{"field":"at","type":"quantitative"}}}
]},
{"encoding":{"x":{"field":"at","type":"quantitative","scale":{"domain":[0,4],"range":[64.3,284]},"axis":null},"y":{"field":"level","type":"quantitative","scale":{"domain":[0,2],"range":[1294.7,1342.3]},"axis":null}},"layer":[
{"data":{"name":"dividers"},"transform":[{"filter":"datum.panel=='hL'"}],"mark":{"type":"rule","stroke":"#777"},"encoding":{"y2":{"field":"depth"}}},
{"data":{"name":"captions"},"transform":[{"filter":"datum.panel=='hL'"}],"mark":{"type":"text"},"encoding":{"text":{"field":"label"},"size":{"field":"kind","type":"nominal","scale":{"type":"ordinal","domain":["big","medium","normal","small","minor"],"range":[17,16,14.5,14,12.5]},"legend":null}}}
]},

{"data":{"name":"chip"},"transform":[{"filter":"datum.panel=='hR'"}],
"encoding":{"x":{"field":"group","type":"nominal","scale":{"domain":["-1903/-1836|anti-ELK1","-1903/-1836|IgG","-304/-212|anti-ELK1","-304/-212|IgG"],"range":[373.3,592.3],"paddingInner":0.4244,"paddingOuter":0.2122},"axis":{"orient":"bottom","offset":-70,"title":null,"tickBand":"extent","tickSize":3,"labelAngle":0,"labelFontSize":10.5,"labelPadding":5,"labelExpr":"split(datum.label,'|')[1]"}},"xOffset":{"field":"treatment","type":"nominal","scale":{"domain":["DMSO","U0126"]}}},
"layer":[
{"mark":{"type":"bar","strokeWidth":1},"encoding":{"y":{"field":"value","type":"quantitative","scale":{"domain":[0,0.14],"range":[1295,1131.7]},"axis":{"orient":"left","offset":-373.3,"values":[0,0.02,0.04,0.06,0.08,0.1,0.12,0.14],"format":".2~f","tickSize":3,"labelPadding":2,"labelFontSize":13,"title":"ChIP (% of input)","titleFontSize":14.5,"titleX":-48.5,"titleY":1208.3}},"fill":{"field":"treatment","type":"nominal","scale":{"domain":["DMSO","U0126"],"range":["#4a7ebb","#c0504d"]},"legend":{"title":null,"orient":"none","legendX":530.7,"legendY":1150.3,"padding":3,"strokeColor":"#555","fillColor":"#fff","symbolType":"square","symbolSize":36,"symbolStrokeColor":"#333","symbolStrokeWidth":1,"labelFontSize":12.5,"rowPadding":7,"labelOffset":4}},"stroke":{"field":"treatment","type":"nominal","scale":{"domain":["DMSO","U0126"],"range":["#1d3b63","#6f2422"]},"legend":null}}},
{"mark":{"type":"rule","stroke":"#222"},"encoding":{"y":{"field":"lo","type":"quantitative"},"y2":{"field":"hi"}}},
{"mark":{"type":"tick","color":"#222","size":4,"thickness":1},"encoding":{"y":{"field":"lo","type":"quantitative"}}},
{"mark":{"type":"tick","color":"#222","size":4,"thickness":1},"encoding":{"y":{"field":"hi","type":"quantitative"}}},
{"data":{"name":"chipStars"},"transform":[{"filter":"datum.panel=='hR'"}],"mark":{"type":"text","fontSize":16,"text":"**"},"encoding":{"y":{"field":"at","type":"quantitative"}}}
]},
{"encoding":{"x":{"field":"at","type":"quantitative","scale":{"domain":[0,4],"range":[373.3,592.3]},"axis":null},"y":{"field":"level","type":"quantitative","scale":{"domain":[0,2],"range":[1295,1342.3]},"axis":null}},"layer":[
{"data":{"name":"dividers"},"transform":[{"filter":"datum.panel=='hR'"}],"mark":{"type":"rule","stroke":"#777"},"encoding":{"y2":{"field":"depth"}}},
{"data":{"name":"captions"},"transform":[{"filter":"datum.panel=='hR'"}],"mark":{"type":"text"},"encoding":{"text":{"field":"label"},"size":{"field":"kind","type":"nominal","scale":{"type":"ordinal","domain":["big","medium","normal","small","minor"],"range":[17,16,14.5,14,12.5]},"legend":null}}}
]}
]}
